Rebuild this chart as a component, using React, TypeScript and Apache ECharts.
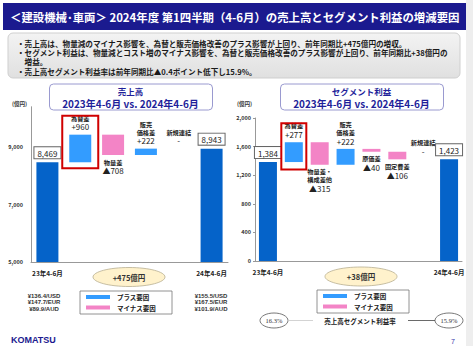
import React, { useEffect, useRef } from "react";
import * as echarts from "echarts";

const salesCategories = ["23年4-6月", "為替差", "物量差", "販売価格差", "新規連結", "24年4-6月"];
const salesValues = [8469, 960, -708, 222, 0, 8943];
const salesLabelNames = ["", "為替差", "物量差", "販売\n価格差", "新規連結", ""];
const salesAxisMin = 5000;
const salesAxisMax = 10400;
const salesAxisInterval = 2000;

const profitCategories = ["23年4-6月", "為替差", "物量差・構成差他", "販売価格差", "原価差", "固定費差", "新規連結", "24年4-6月"];
const profitValues = [1384, 277, -315, 222, -40, -106, 0, 1423];
const profitLabelNames = ["", "為替差", "物量差・\n構成差他", "販売\n価格差", "原価差", "固定費差", "新規連結", ""];
const profitAxisMin = 0;
const profitAxisMax = 2000;
const profitAxisInterval = 400;

const rates2023 = ["¥136.4/USD", "¥147.7/EUR", "¥89.9/AUD"];
const rates2024 = ["¥155.5/USD", "¥167.5/EUR", "¥101.9/AUD"];
const salesDiffText = "+475億円";
const profitDiffText = "+38億円";
const marginBefore = "16.3%";
const marginAfter = "15.9%";

const bulletLines = [
  "・売上高は、物量減のマイナス影響を、為替と販売価格改善のプラス影響が上回り、前年同期比+475億円の増収。",
  "・セグメント利益は、物量減とコスト増のマイナス影響を、為替と販売価格改善のプラス影響が上回り、前年同期比+38億円の",
  "　増益。",
  "・売上高セグメント利益率は前年同期比▲0.4ポイント低下し15.9%。",
];

const FONT = '"Noto Sans CJK JP", "Noto Sans", sans-serif';
const DARK = "#0563c9";
const PLUS = "#339cff";
const MINUS = "#f384c6";
const NAVY = "#1b1a8f";

const fmt = (v: number) => v.toLocaleString("en-US");

function waterfall(values: number[]) {
  let running = 0;
  const base: number[] = [];
  const vis: number[] = [];
  values.forEach((v, i) => {
    if (i === 0 || i === values.length - 1) {
      base.push(0);
      vis.push(v);
      running = v;
    } else if (v >= 0) {
      base.push(running);
      vis.push(v);
      running += v;
    } else {
      running += v;
      base.push(running);
      vis.push(-v);
    }
  });
  return { base, vis };
}

const rich = {
  n: { fontSize: 6.2, fontWeight: "bold", lineHeight: 8, color: "#222", fontFamily: FONT },
  v: { fontSize: 8, lineHeight: 9.5, color: "#222", fontFamily: FONT },
};

function visibleData(values: number[], names: string[], vis: number[]) {
  const last = values.length - 1;
  return values.map((v, i) => {
    if (i === 0 || i === last) {
      return {
        value: vis[i],
        itemStyle: { color: DARK },
        label: {
          show: true,
          position: "top",
          distance: 4,
          formatter: fmt(v),
          fontSize: 8,
          color: "#222",
          fontFamily: FONT,
          backgroundColor: "#fff",
          borderColor: "#666",
          borderWidth: 1,
          padding: [2, 3, 1, 3],
        },
      };
    }
    const nameLines = names[i].split("\n").map((s) => `{n|${s}}`).join("\n");
    const valText = v > 0 ? `+${fmt(v)}` : v < 0 ? `▲${fmt(-v)}` : "-";
    return {
      value: vis[i],
      itemStyle: { color: v > 0 ? PLUS : v < 0 ? MINUS : "transparent" },
      label: {
        show: true,
        position: v < 0 ? "bottom" : "top",
        distance: 3,
        formatter: `${nameLines}\n{v|${valText}}`,
        rich,
      },
    };
  });
}

function buildSeries(values: number[], names: string[], idx: number, barWidth: number) {
  const { base, vis } = waterfall(values);
  const stack = "s" + idx;
  return [
    {
      type: "bar",
      xAxisIndex: idx,
      yAxisIndex: idx,
      stack,
      barWidth,
      silent: true,
      itemStyle: { color: "transparent" },
      data: base,
    },
    {
      type: "bar",
      xAxisIndex: idx,
      yAxisIndex: idx,
      stack,
      barWidth,
      data: visibleData(values, names, vis),
    },
  ];
}

function xAxis(cats: string[], idx: number) {
  return {
    type: "category",
    gridIndex: idx,
    data: cats,
    axisLine: { lineStyle: { color: "#999", width: 1 } },
    axisTick: { show: false },
    axisLabel: {
      interval: 0,
      margin: 8,
      fontSize: 6.5,
      fontWeight: "bold",
      color: "#222",
      fontFamily: FONT,
      formatter: (v: string, i: number) => (i === 0 || i === cats.length - 1 ? v : ""),
    },
  };
}

function yAxis(idx: number, min: number, max: number, interval: number, tick: boolean, margin: number) {
  return {
    type: "value",
    gridIndex: idx,
    min,
    max,
    interval,
    splitLine: { show: false },
    axisLine: { show: true, lineStyle: { color: "#999", width: 1 } },
    axisTick: { show: tick, length: 2, lineStyle: { color: "#999" } },
    axisLabel: {
      margin,
      fontSize: 5.5,
      fontWeight: "bold",
      color: "#333",
      fontFamily: FONT,
      showMaxLabel: max % interval === (min % interval),
      formatter: (v: number) => fmt(v),
    },
  };
}

function txt(x: number, y: number, text: string, size: number, opts: any = {}) {
  return {
    type: "text",
    x,
    y,
    silent: true,
    style: {
      text,
      fill: opts.fill || "#222",
      fontSize: size,
      fontWeight: opts.weight || "normal",
      fontStyle: opts.style || "normal",
      fontFamily: opts.family || FONT,
      align: opts.align || "center",
      verticalAlign: "middle",
      lineHeight: opts.lineHeight,
    },
    z: 5,
  };
}

function legendBox(x: number, y: number) {
  return [
    { type: "rect", shape: { x, y, width: 92, height: 23 }, style: { fill: "#fff", stroke: "#777", lineWidth: 0.8 }, z: 4 },
    { type: "line", shape: { x1: x + 6, y1: y + 6, x2: x + 30, y2: y + 6 }, style: { stroke: PLUS, lineWidth: 4 }, z: 5 },
    { type: "line", shape: { x1: x + 6, y1: y + 16.5, x2: x + 30, y2: y + 16.5 }, style: { stroke: MINUS, lineWidth: 4 }, z: 5 },
    txt(x + 37, y + 6, "プラス要因", 6.5, { align: "left", weight: "bold" }),
    txt(x + 37, y + 16.5, "マイナス要因", 6.5, { align: "left", weight: "bold" }),
  ];
}

function titleBox(cx: number, line1: string) {
  return [
    { type: "rect", shape: { x: cx - 81, y: 84, width: 163, height: 26, r: 4 }, style: { fill: "#fff", stroke: "#9a9ad0", lineWidth: 1 }, z: 4 },
    txt(cx, 91, line1, 8.5, { weight: "bold", fill: "#1f1f9a" }),
    txt(cx, 103, "2023年4-6月 vs. 2024年4-6月", 10, { weight: "bold", fill: "#1f1f9a" }),
  ];
}

function diffEllipse(cx: number, cy: number, text: string) {
  return [
    { type: "ellipse", shape: { cx, cy, rx: 36, ry: 9.5 }, style: { fill: "#fff2cc", stroke: "#b8ae90", lineWidth: 0.8 }, z: 4 },
    txt(cx, cy, text, 7.5, { weight: "bold", fill: "#333" }),
  ];
}

function ratesText(cx: number, lines: string[]) {
  return txt(cx, 302.3, lines.join("\n"), 6, {
    weight: "bold",
    fill: "#333",
    lineHeight: 6.3,
    family: '"Liberation Sans", "DejaVu Sans", sans-serif',
  });
}

function marginOval(cx: number, text: string) {
  return [
    { type: "ellipse", shape: { cx, cy: 320.5, rx: 14, ry: 7.5 }, style: { fill: "#fff", stroke: "#555", lineWidth: 0.8 }, z: 4 },
    txt(cx, 320.5, text, 6.5, { fill: "#333", family: '"Liberation Serif", "DejaVu Serif", serif' }),
  ];
}

export default function App() {
  const ref = useRef<HTMLDivElement>(null);
  useEffect(() => {
    const chart = echarts.init(ref.current!, null, { renderer: "svg" });
    const graphics: any[] = [
      { type: "rect", shape: { x: 466, y: 0, width: 7, height: 346 }, style: { fill: "#eeeeee" }, z: 1 },
      { type: "rect", shape: { x: 3, y: 3, width: 463, height: 27 }, style: { fill: NAVY }, z: 2 },
      txt(10, 17, "＜建設機械･車両＞ 2024年度 第1四半期（4-6月）の売上高とセグメント利益の増減要因", 11.4, {
        align: "left",
        weight: "bold",
        fill: "#fff",
      }),
      {
        type: "rect",
        shape: { x: 8, y: 33, width: 452, height: 45, r: 5 },
        style: {
          fill: new echarts.graphic.LinearGradient(0, 0, 0, 1, [
            { offset: 0, color: "#f3f3f3" },
            { offset: 1, color: "#e0e0e0" },
          ]),
          stroke: "#cfcfcf",
          lineWidth: 1,
        },
        z: 2,
      },
      txt(17, 57.2, bulletLines.join("\n"), 7.6, { align: "left", weight: "bold", fill: "#1a1a1a", lineHeight: 9.4 }),
      txt(12, 104, "(億円)", 5.5, { align: "left", weight: "bold", fill: "#333" }),
      txt(237, 104, "(億円)", 5.5, { align: "left", weight: "bold", fill: "#333" }),
      ...titleBox(130.5, "売上高"),
      ...titleBox(361.5, "セグメント利益"),
      ...diffEllipse(129, 277, salesDiffText),
      ...diffEllipse(361, 276.5, profitDiffText),
      ...legendBox(80, 291),
      ...legendBox(317, 290),
      ratesText(44, rates2023),
      ratesText(211, rates2024),
      ...marginOval(274, marginBefore),
      ...marginOval(449, marginAfter),
      { type: "line", shape: { x1: 288, y1: 320.5, x2: 313, y2: 320.5 }, style: { stroke: "#c8c8c8", lineWidth: 0.8 }, z: 4 },
      { type: "line", shape: { x1: 408, y1: 320.5, x2: 435, y2: 320.5 }, style: { stroke: "#444", lineWidth: 0.8 }, z: 4 },
      txt(360, 320.5, "売上高セグメント利益率", 6.5, { weight: "bold", fill: "#222" }),
      txt(11, 340, "KOMATSU", 9, { align: "left", weight: "900", fill: NAVY, family: '"Liberation Sans", "DejaVu Sans", sans-serif' }),
      txt(453, 341, "7", 7, { fill: "#3333aa", family: '"Liberation Sans", sans-serif' }),
    ];
    const option: any = {
      animation: false,
      textStyle: { fontFamily: FONT },
      grid: [
        { left: 31, top: 106.75, right: 245, bottom: 84, containLabel: false, outerBoundsMode: "none" },
        { left: 255, top: 118, right: 11, bottom: 85, containLabel: false, outerBoundsMode: "none" },
      ],
      xAxis: [xAxis(salesCategories, 0), xAxis(profitCategories, 1)],
      yAxis: [
        yAxis(0, salesAxisMin, salesAxisMax, salesAxisInterval, false, 8),
        yAxis(1, profitAxisMin, profitAxisMax, profitAxisInterval, true, 4),
      ],
      series: [
        ...buildSeries(salesValues, salesLabelNames, 0, 22),
        ...buildSeries(profitValues, profitLabelNames, 1, 18),
      ],
      graphic: { elements: graphics },
    };
    chart.setOption(option);

    // Red highlight boxes around the FX-difference bars, placed through the axes' scales
    const redBox = (id: string, gridIdx: number, values: number[], halfW: number, padTop: number, padBottom: number) => {
      const start = values[0];
      const end = start + values[1];
      const top = chart.convertToPixel({ xAxisIndex: gridIdx, yAxisIndex: gridIdx } as any, [1, end]) as number[];
      const bottom = chart.convertToPixel({ xAxisIndex: gridIdx, yAxisIndex: gridIdx } as any, [1, start]) as number[];
      return {
        id,
        type: "rect",
        shape: { x: top[0] - halfW, y: top[1] - padTop, width: halfW * 2, height: bottom[1] - top[1] + padTop + padBottom },
        style: { fill: "none", stroke: "#d00000", lineWidth: 2 },
        z: 10,
      };
    };
    chart.setOption({
      graphic: {
        elements: [redBox("redL", 0, salesValues, 18, 19, 6), redBox("redR", 1, profitValues, 12.5, 19, 7.5)],
      },
    });
    return () => chart.dispose();
  }, []);
  return (
    <div
      ref={ref}
      style={{ position: "fixed", left: 0, top: 0, width: 473, height: 346, background: "#fff" }}
    />
  );
}
